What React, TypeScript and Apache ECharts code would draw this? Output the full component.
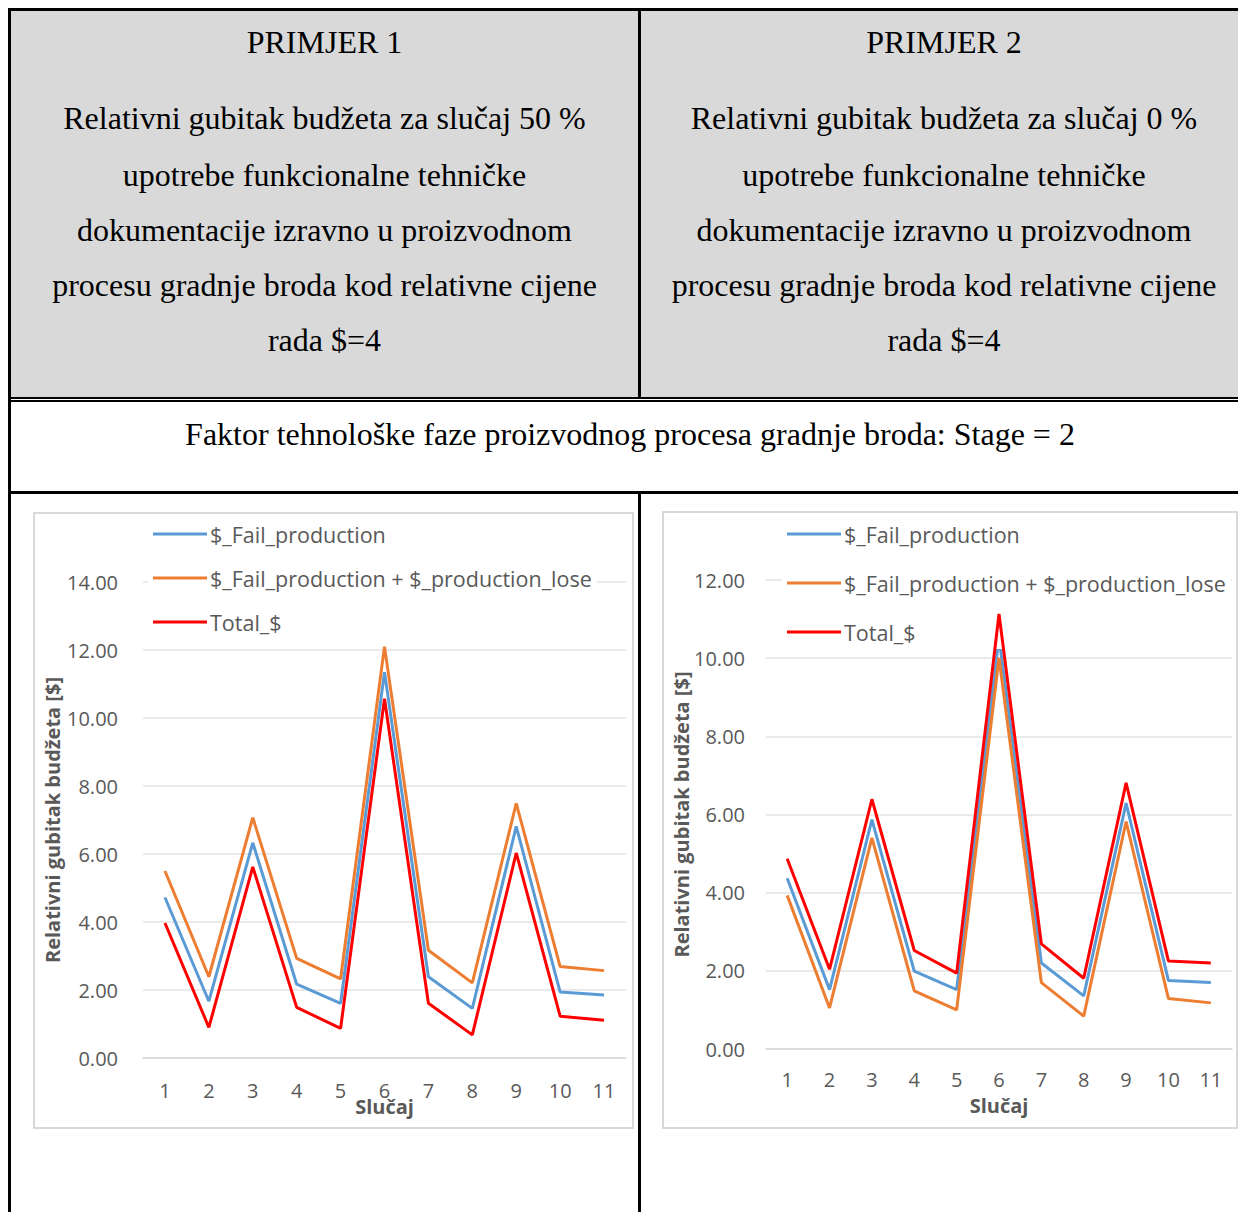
import React, { useEffect, useRef } from "react";
import * as echarts from "echarts";

const categories = ["1", "2", "3", "4", "5", "6", "7", "8", "9", "10", "11"];
const seriesNames = ["$_Fail_production", "$_Fail_production + $_production_lose", "Total_$"];
const seriesColors = ["#5b9bd5", "#ed7d31", "#ff0000"];

// PRIMJER 1
const p1Fail = [4.72, 1.67, 6.33, 2.17, 1.61, 11.35, 2.39, 1.46, 6.81, 1.94, 1.85];
const p1FailLose = [5.5, 2.39, 7.07, 2.93, 2.33, 12.1, 3.17, 2.21, 7.49, 2.69, 2.57];
const p1Total = [3.97, 0.9, 5.62, 1.49, 0.87, 10.57, 1.61, 0.68, 6.03, 1.23, 1.11];

// PRIMJER 2
const p2Fail = [4.37, 1.52, 5.87, 1.99, 1.52, 10.53, 2.2, 1.36, 6.29, 1.75, 1.7];
const p2FailLose = [3.93, 1.05, 5.4, 1.49, 1.0, 10.01, 1.7, 0.84, 5.82, 1.29, 1.18];
const p2Total = [4.87, 2.04, 6.39, 2.52, 1.94, 11.13, 2.69, 1.81, 6.81, 2.25, 2.2];

const header1 = ["PRIMJER 1"];
const header2 = ["PRIMJER 2"];
const desc1 = [
  "Relativni gubitak budžeta za slučaj 50 %",
  "upotrebe funkcionalne tehničke",
  "dokumentacije izravno u proizvodnom",
  "procesu gradnje broda kod relativne cijene",
  "rada $=4",
];
const desc2 = [
  "Relativni gubitak budžeta za slučaj 0 %",
  "upotrebe funkcionalne tehničke",
  "dokumentacije izravno u proizvodnom",
  "procesu gradnje broda kod relativne cijene",
  "rada $=4",
];
const stageText = "Faktor tehnološke faze proizvodnog procesa gradnje broda: Stage = 2";
const yAxisName = "Relativni gubitak budžeta [$]";
const xAxisName = "Slučaj";

const FONT = "'Open Sans', 'Noto Sans', sans-serif";
const SERIF = "'Liberation Serif', 'DejaVu Serif', serif";

type ChartCfg = {
  data: number[][];
  max: number;
  grid: { left: number; right: number; top: number; bottom: number };
  legend: { left: number; top: number; gap: number };
  yNameGap: number;
  xNameGap: number;
  xLabelMargin: number;
  yLabelMargin: number;
};

function buildOption(c: ChartCfg) {
  return {
    animation: false,
    textStyle: { fontFamily: FONT },
    grid: { ...c.grid, containLabel: false, outerBoundsMode: "none" },
    legend: {
      orient: "vertical",
      left: c.legend.left,
      top: c.legend.top,
      itemGap: c.legend.gap,
      itemWidth: 54,
      itemHeight: 3,
      backgroundColor: "#ffffff",
      padding: [5, 5, 5, 5],
      textStyle: { fontSize: 21.5, color: "#595959", fontFamily: FONT, lineHeight: 24, padding: [0, 0, 0, -2] },
      data: seriesNames.map((n) => ({ name: n, icon: "rect" })),
      itemStyle: { borderWidth: 0 },
    },
    xAxis: {
      type: "category",
      data: categories,
      boundaryGap: true,
      name: xAxisName,
      nameLocation: "middle",
      nameGap: c.xNameGap,
      nameMoveOverlap: false,
      nameTextStyle: { fontSize: 20, fontWeight: "bold", color: "#595959", fontFamily: FONT },
      axisLine: { show: true, lineStyle: { color: "#d9d9d9", width: 1.5 } },
      axisTick: { show: false },
      axisLabel: { fontSize: 20, color: "#595959", margin: c.xLabelMargin, fontFamily: FONT },
      splitLine: { show: false },
    },
    yAxis: {
      type: "value",
      min: 0,
      max: c.max,
      interval: 2,
      name: yAxisName,
      nameLocation: "middle",
      nameGap: c.yNameGap,
      nameMoveOverlap: false,
      nameTextStyle: { fontSize: 20, fontWeight: "bold", color: "#595959", fontFamily: FONT },
      axisLine: { show: false },
      axisTick: { show: false },
      axisLabel: {
        fontSize: 20,
        color: "#595959",
        margin: c.yLabelMargin,
        fontFamily: FONT,
        formatter: (v: number) => v.toFixed(2),
      },
      splitLine: { show: true, lineStyle: { color: "#e3e3e3", width: 1.5 } },
    },
    series: c.data.map((d, i) => ({
      name: seriesNames[i],
      type: "line",
      data: d,
      symbol: "none",
      color: seriesColors[i],
      lineStyle: { width: 3, color: seriesColors[i] },
      itemStyle: { color: seriesColors[i] },
      z: 2 + i,
    })),
  };
}

function Chart(props: { cfg: ChartCfg; style: React.CSSProperties }) {
  const ref = useRef<HTMLDivElement>(null);
  useEffect(() => {
    if (!ref.current) return;
    const chart = echarts.init(ref.current, undefined, { renderer: "svg" });
    chart.setOption(buildOption(props.cfg));
    return () => chart.dispose();
  }, []);
  return <div ref={ref} style={props.style} />;
}

const leftCfg: ChartCfg = {
  data: [p1Fail, p1FailLose, p1Total],
  max: 14,
  grid: { left: 108, right: 6, top: 68, bottom: 69 },
  legend: { left: 113, top: 3, gap: 20 },
  yNameGap: 81,
  xNameGap: 38,
  xLabelMargin: 22,
  yLabelMargin: 25,
};

const rightCfg: ChartCfg = {
  data: [p2Fail, p2FailLose, p2Total],
  max: 12,
  grid: { left: 102, right: 4, top: 67, bottom: 78 },
  legend: { left: 118, top: 4, gap: 25 },
  yNameGap: 75,
  xNameGap: 46,
  xLabelMargin: 20,
  yLabelMargin: 21,
};

const line = (style: React.CSSProperties): React.CSSProperties => ({
  position: "absolute",
  background: "#000",
  ...style,
});

function TextLines(props: { lines: string[]; left: number; width: number; tops: number[] }) {
  return (
    <>
      {props.lines.map((t, i) => (
        <div
          key={i}
          style={{
            position: "absolute",
            left: props.left,
            width: props.width,
            top: props.tops[i],
            height: 40,
            lineHeight: "40px",
            textAlign: "center",
            fontFamily: SERIF,
            fontSize: 32,
            color: "#000",
            whiteSpace: "nowrap",
          }}
        >
          {t}
        </div>
      ))}
    </>
  );
}

export default function App() {
  const descTops = [118, 175, 230, 285, 340].map((y) => y - 20);
  return (
    <div
      style={{
        position: "absolute",
        left: 0,
        top: 0,
        width: 1238,
        height: 1212,
        overflow: "hidden",
        background: "#fff",
      }}
    >
      {/* header gray */}
      <div style={{ position: "absolute", left: 11, top: 11, width: 1238, height: 386, background: "#d9d9d9" }} />
      {/* borders */}
      <div style={line({ left: 8, top: 8, width: 1240, height: 3 })} />
      <div style={line({ left: 8, top: 8, width: 3, height: 1210 })} />
      <div style={line({ left: 638, top: 8, width: 2.5, height: 389 })} />
      <div style={line({ left: 8, top: 397, width: 1240, height: 2 })} />
      <div style={line({ left: 8, top: 400, width: 1240, height: 2 })} />
      <div style={line({ left: 8, top: 491, width: 1240, height: 2.5 })} />
      <div style={line({ left: 638, top: 491, width: 2.5, height: 730 })} />

      <TextLines lines={header1} left={11} width={627} tops={[22]} />
      <TextLines lines={header2} left={640} width={608} tops={[22]} />
      <TextLines lines={desc1} left={11} width={627} tops={descTops} />
      <TextLines lines={desc2} left={640} width={608} tops={descTops} />
      <TextLines lines={[stageText]} left={11} width={1238} tops={[414]} />

      {/* chart boxes */}
      <div
        style={{
          position: "absolute",
          left: 33,
          top: 512,
          width: 597,
          height: 613,
          border: "2px solid #d9d9d9",
          background: "#fff",
        }}
      >
        <Chart cfg={leftCfg} style={{ position: "absolute", left: 0, top: 0, width: 597, height: 613 }} />
      </div>
      <div
        style={{
          position: "absolute",
          left: 662,
          top: 511,
          width: 572,
          height: 614,
          border: "2px solid #d9d9d9",
          background: "#fff",
        }}
      >
        <Chart cfg={rightCfg} style={{ position: "absolute", left: 0, top: 0, width: 572, height: 614 }} />
      </div>
    </div>
  );
}
